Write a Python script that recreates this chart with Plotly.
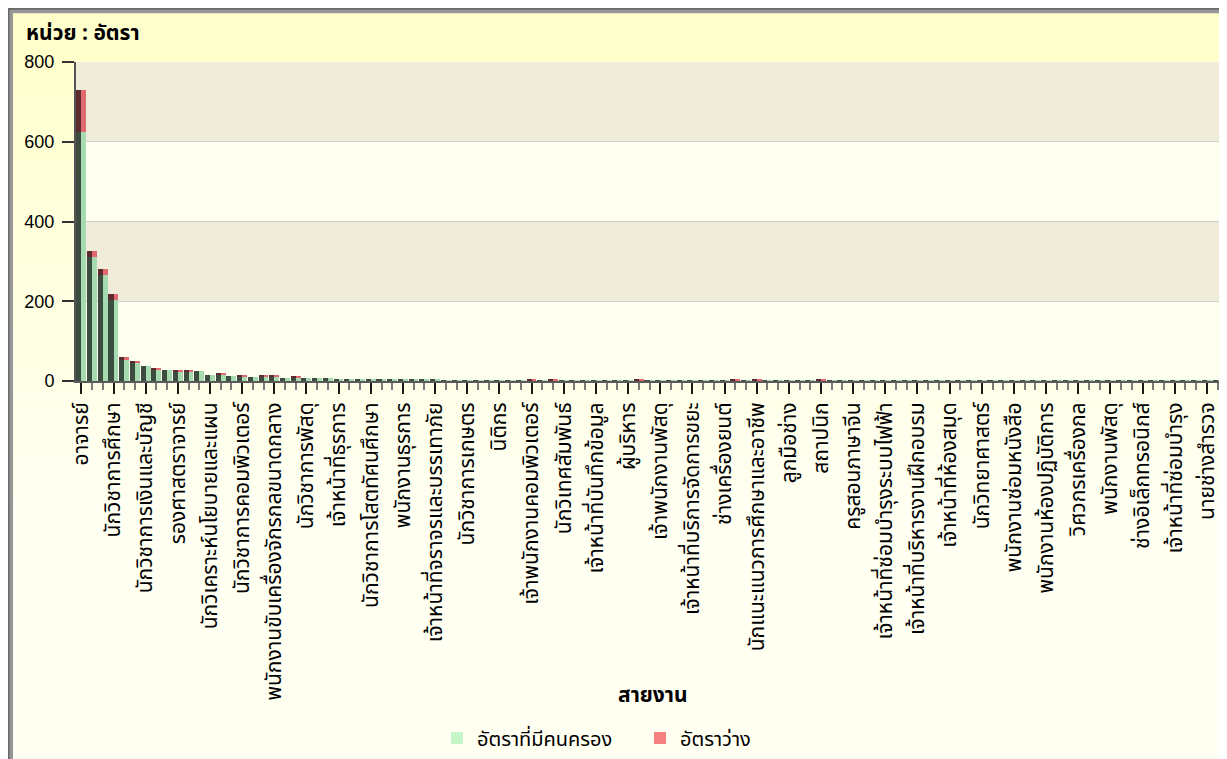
import plotly.graph_objects as go

# ---- data ----
tick_labels = [
    "อาจารย์", "นักวิชาการศึกษา", "นักวิชาการเงินและบัญชี", "รองศาสตราจารย์",
    "นักวิเคราะห์นโยบายและแผน", "นักวิชาการคอมพิวเตอร์", "พนักงานขับเครื่องจักรกลขนาดกลาง",
    "นักวิชาการพัสดุ", "เจ้าหน้าที่ธุรการ", "นักวิชาการโสตทัศนศึกษา", "พนักงานธุรการ",
    "เจ้าหน้าที่จราจรและบรรเทาภัย", "นักวิชาการเกษตร", "นิติกร", "เจ้าพนักงานคอมพิวเตอร์",
    "นักวิเทศสัมพันธ์", "เจ้าหน้าที่บันทึกข้อมูล", "ผู้บริหาร", "เจ้าพนักงานพัสดุ",
    "เจ้าหน้าที่บริการจัดการขยะ", "ช่างเครื่องยนต์", "นักแนะแนวการศึกษาและอาชีพ", "ลูกมือช่าง",
    "สถาปนิก", "ครูสอนภาษาจีน", "เจ้าหน้าที่ซ่อมบำรุงระบบไฟฟ้า", "เจ้าหน้าที่บริหารงานฝึกอบรม",
    "เจ้าหน้าที่ห้องสมุด", "นักวิทยาศาสตร์", "พนักงานซ่อมหนังสือ", "พนักงานห้องปฏิบัติการ",
    "วิศวกรเครื่องกล", "พนักงานพัสดุ", "ช่างอิเล็กทรอนิกส์", "เจ้าหน้าที่ซ่อมบำรุง", "นายช่างสำรวจ",
]
tick_positions = [0, 3, 6, 9, 12, 15, 18, 21, 24, 27, 30, 33, 36, 39, 42, 45, 48, 51,
                  54, 57, 60, 63, 66, 69, 72, 75, 78, 81, 84, 87, 90, 93, 96, 99, 102, 105]

positions = [
    0, 1, 2, 3, 4, 5, 6, 7, 8, 9, 10, 11, 12, 13, 14, 15, 16, 17, 18, 19,
    20, 21, 22, 23, 24, 25, 26, 27, 28, 29, 30, 31, 32, 33, 34, 35, 36, 37, 38, 39,
    40, 41, 42, 43, 44, 45, 46, 47, 48, 49, 50, 51, 52, 53, 54, 55, 56, 57, 58, 59,
    60, 61, 62, 63, 64, 65, 66, 67, 68, 69, 70, 71, 72, 73, 74, 75, 76, 77, 78, 79,
    80, 81, 82, 83, 84, 85, 86, 87, 88, 89, 90, 91, 92, 93, 94, 95, 96, 97, 98, 99,
    100, 101, 102, 103, 104, 105, 106,
]

filled = [
    625, 310, 265, 203, 55, 45, 37, 30, 27, 23, 24, 24, 16, 16, 13, 11, 11, 11, 11, 8,
    8, 8, 8, 8, 6, 6, 6, 3, 3, 3, 3, 3, 3, 3, 2, 2, 2, 2, 2, 2,
    2, 1, 1, 1, 1, 1, 1, 1, 1, 1, 1, 1, 1, 1, 1, 1, 1, 1, 1, 1,
    1, 1, 1, 1, 1, 1, 1, 1, 1, 1, 1, 1, 1, 1, 1, 1, 1, 1, 1, 1,
    1, 1, 1, 1, 1, 1, 1, 1, 1, 1, 1, 1, 1, 1, 1, 1, 1, 1, 1, 1,
    1, 1, 1, 1, 1, 1, 1,
]
vacant = [
    105, 15, 15, 15, 5, 5, 0, 2, 0, 4, 4, 0, 0, 2, 0, 2, 0, 2, 2, 0,
    3, 0, 0, 0, 0, 0, 0, 0, 0, 0, 0, 0, 0, 0, 0, 0, 0, 0, 0, 0,
    0, 0, 2, 0, 2, 0, 0, 0, 0, 0, 0, 0, 3, 0, 0, 0, 0, 0, 0, 0,
    0, 2, 0, 2, 0, 0, 0, 0, 0, 2, 0, 0, 0, 0, 0, 0, 0, 0, 0, 0,
    0, 0, 0, 0, 0, 0, 0, 0, 0, 0, 0, 0, 0, 0, 0, 0, 0, 0, 0, 0,
    0, 0, 0, 0, 0, 0, 0,
]

series_names = ["อัตราที่มีคนครอง", "อัตราว่าง"]
legend_colors = ["#c6f5c8", "#f48080"]

# ---- figure geometry (page has an 8px body margin) ----
OFF = 8
W, H = 1227, 759
PL, PR, PT, PB = 76, 1223, 62, 382          # plot area in page pixels
L, T = PL - OFF, PT - OFF
R = W - (PR - OFF)
B = H - (PB - OFF)
pw, ph = PR - PL, PB - PT


def px_x(X):
    return (X - PL) / pw


def px_y(Y):
    return (PB - Y) / ph


FONT = "Tahoma, 'Noto Sans Thai', 'Noto Sans', 'Liberation Sans', sans-serif"

fig = go.Figure()
# 3D-looking bars: dark left half + light right half
fig.add_bar(x=positions, y=filled, offset=-0.47, width=0.47,
            marker=dict(color="#3c4c3e", line=dict(width=0)), showlegend=False, hoverinfo="skip")
fig.add_bar(x=positions, y=filled, offset=0.0, width=0.45,
            marker=dict(color="#a6dab0", line=dict(width=0)), showlegend=False, name=series_names[0])
fig.add_bar(x=positions, y=vacant, base=filled, offset=-0.47, width=0.47,
            marker=dict(color="#5c2b2d", line=dict(width=0)), showlegend=False, hoverinfo="skip")
fig.add_bar(x=positions, y=vacant, base=filled, offset=0.0, width=0.45,
            marker=dict(color="#e06a70", line=dict(width=0)), showlegend=False, name=series_names[1])
# legend entries
for nm, col in zip(series_names, legend_colors):
    fig.add_bar(x=[None], y=[None], name=nm, marker=dict(color=col, line=dict(width=0)),
                showlegend=True)

shapes = []
# outer gradient background (light yellow to ivory)
top_c = (255, 255, 204)
bot_c = (255, 255, 242)
y_start, y_end = 13, 520
n = 24
for i in range(n):
    y0 = y_start + (y_end - y_start) * i / n
    y1 = y_start + (y_end - y_start) * (i + 1) / n
    t = i / (n - 1)
    c = tuple(round(top_c[k] + (bot_c[k] - top_c[k]) * t) for k in range(3))
    shapes.append(dict(type="rect", xref="paper", yref="paper", layer="below",
                       x0=px_x(12), x1=px_x(W + 20), y0=px_y(y1 + 0.5), y1=px_y(y0),
                       fillcolor="rgb(%d,%d,%d)" % c, line=dict(width=0)))
shapes.append(dict(type="rect", xref="paper", yref="paper", layer="below",
                   x0=px_x(12), x1=px_x(W + 20), y0=px_y(H + 20), y1=px_y(y_end),
                   fillcolor="rgb(%d,%d,%d)" % bot_c, line=dict(width=0)))
# header band
shapes.append(dict(type="rect", xref="paper", yref="paper", layer="below",
                   x0=px_x(12), x1=px_x(W + 20), y0=px_y(61), y1=px_y(13),
                   fillcolor="#ffffcc", line=dict(width=0)))
# frame border
shapes.append(dict(type="rect", xref="paper", yref="paper", layer="above",
                   x0=px_x(10.5), x1=px_x(W + 30), y0=px_y(H + 30), y1=px_y(10.5),
                   fillcolor="rgba(0,0,0,0)", line=dict(color="#969696", width=5)))
shapes.append(dict(type="line", xref="paper", yref="paper", layer="above",
                   x0=px_x(8), x1=px_x(W + 30), y0=px_y(8.5), y1=px_y(8.5),
                   line=dict(color="#6a6a6a", width=2)))
shapes.append(dict(type="line", xref="paper", yref="paper", layer="above",
                   x0=px_x(8.5), x1=px_x(8.5), y0=px_y(8), y1=px_y(H + 30),
                   line=dict(color="#6a6a6a", width=2)))
# plot area bands
shapes.append(dict(type="rect", xref="paper", yref="paper", layer="below",
                   x0=0, x1=1, y0=0, y1=1, fillcolor="#fffff0", line=dict(width=0)))
for lo, hi in [(200, 400), (600, 800)]:
    shapes.append(dict(type="rect", xref="paper", yref="y", layer="below",
                       x0=0, x1=1, y0=lo, y1=hi, fillcolor="#efecd9", line=dict(width=0)))

fig.update_layout(
    width=W, height=H, autosize=False,
    margin=dict(l=L, r=R, t=T, b=B),
    paper_bgcolor="#ffffff", plot_bgcolor="rgba(0,0,0,0)",
    barmode="overlay", bargap=0,
    font=dict(family=FONT, size=16, color="#000000"),
    shapes=shapes,
    showlegend=True,
    legend=dict(orientation="h", x=px_x(437), xanchor="left", y=px_y(738), yanchor="middle",
                bgcolor="rgba(0,0,0,0)", font=dict(size=20, family=FONT), traceorder="normal",
                itemwidth=30, entrywidth=158, entrywidthmode="pixels"),
    annotations=[
        dict(text="<b>หน่วย : อัตรา</b>", xref="paper", yref="paper", x=px_x(24), y=px_y(33),
             xanchor="left", yanchor="middle", showarrow=False, font=dict(size=21, family=FONT)),
        dict(text="<b>สายงาน</b>", xref="paper", yref="paper", x=px_x(653), y=px_y(697),
             xanchor="center", yanchor="middle", showarrow=False, font=dict(size=21, family=FONT)),
    ],
)
fig.update_xaxes(
    range=[-0.5, 106.5], showgrid=False, zeroline=False,
    showline=True, linecolor="#5a5a5a", linewidth=2,
    tickmode="array", tickvals=tick_positions, ticktext=tick_labels, tickangle=-90,
    ticks="outside", ticklen=11, tickcolor="#1a1a1a", tickwidth=2,
    tickfont=dict(size=21, family=FONT),
    minor=dict(ticks="outside", ticklen=7, tickcolor="#7a7a7a", tickwidth=2, dtick=1, tick0=0,
               showgrid=False),
    fixedrange=True,
)
fig.update_yaxes(
    range=[0, 800], tickvals=[0, 200, 400, 600, 800],
    showgrid=True, gridcolor="#cfcfcf", gridwidth=1, zeroline=False,
    showline=True, linecolor="#555555", linewidth=2,
    ticks="outside", ticklen=12, tickcolor="#333333", tickwidth=2, ticklabelstandoff=4,
    tickfont=dict(size=18, family="'Liberation Sans', Arial, sans-serif"),
    fixedrange=True,
)

fig.write_html("out.html")
